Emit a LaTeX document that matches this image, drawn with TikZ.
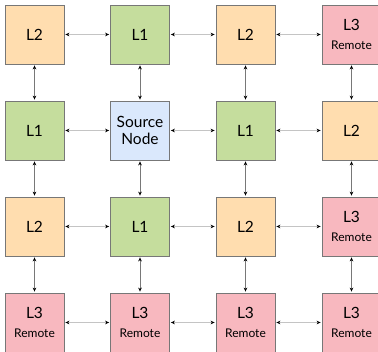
\documentclass[tikz,border=0pt]{standalone}
\usepackage{fontspec}
\setmainfont{Lato}
\usetikzlibrary{arrows.meta}
\definecolor{ltwo}{HTML}{FFDDAF}
\definecolor{lone}{HTML}{C5DD9D}
\definecolor{lsrc}{HTML}{DAE8FC}
\definecolor{lthree}{HTML}{F8B8BF}
\definecolor{bord}{HTML}{777777}
\tikzset{
  box/.style={draw=bord, line width=0.8pt, minimum width=59pt, minimum height=59pt, inner sep=0pt, align=center, font=\fontsize{15.5}{17.5}\selectfont},
  boxtwo/.style={box, fill=ltwo},
  boxone/.style={box, fill=lone},
  boxsrc/.style={box, fill=lsrc},
  boxthree/.style={box, fill=lthree},
  hlink/.style={draw={rgb,255:red,196;green,196;blue,196}, line width=1.3pt, {Stealth[length=4pt,width=3.6pt,color=black]}-{Stealth[length=4pt,width=3.6pt,color=black]}, shorten <=1pt, shorten >=1pt},
  vlink/.style={draw={rgb,255:red,120;green,120;blue,120}, line width=0.7pt, {Stealth[length=4pt,width=3.6pt,color=black]}-{Stealth[length=4pt,width=3.6pt,color=black]}, shorten <=1pt, shorten >=1pt},
}
\newcommand{\remotetext}{L3\\[2pt]{\fontsize{12}{17.5}\selectfont Remote}}
\begin{document}
\begin{tikzpicture}[x=1pt,y=-1pt]
\useasboundingbox (0,0) rectangle (378,352);
\clip (0,0) rectangle (378,352);
% row 1
\node[boxtwo]   (n11) at (34.5,34.5)  {L2};
\node[boxone]   (n12) at (140,34.5)   {L1};
\node[boxtwo]   (n13) at (245.5,34.5) {L2};
\node[boxthree] (n14) at (351.5,34.5) {\remotetext};
% row 2
\node[boxone]   (n21) at (34.5,130.5)  {L1};
\node[boxsrc]   (n22) at (140,130.5)   {Source\\Node};
\node[boxone]   (n23) at (245.5,130.5) {L1};
\node[boxtwo]   (n24) at (351.5,130.5) {L2};
% row 3
\node[boxtwo]   (n31) at (34.5,226.5)  {L2};
\node[boxone]   (n32) at (140,226.5)   {L1};
\node[boxtwo]   (n33) at (245.5,226.5) {L2};
\node[boxthree] (n34) at (351.5,226.5) {\remotetext};
% row 4
\node[boxthree] (n41) at (34.5,322.5)  {\remotetext};
\node[boxthree] (n42) at (140,322.5)   {\remotetext};
\node[boxthree] (n43) at (245.5,322.5) {\remotetext};
\node[boxthree] (n44) at (351.5,322.5) {\remotetext};
% horizontal links
\foreach \r in {1,2,3,4}{
  \draw[hlink] (n\r1) -- (n\r2);
  \draw[hlink] (n\r2) -- (n\r3);
  \draw[hlink] (n\r3) -- (n\r4);
}
% vertical links
\foreach \c in {1,2,3,4}{
  \draw[vlink] (n1\c) -- (n2\c);
  \draw[vlink] (n2\c) -- (n3\c);
  \draw[vlink] (n3\c) -- (n4\c);
}
\end{tikzpicture}
\end{document}
